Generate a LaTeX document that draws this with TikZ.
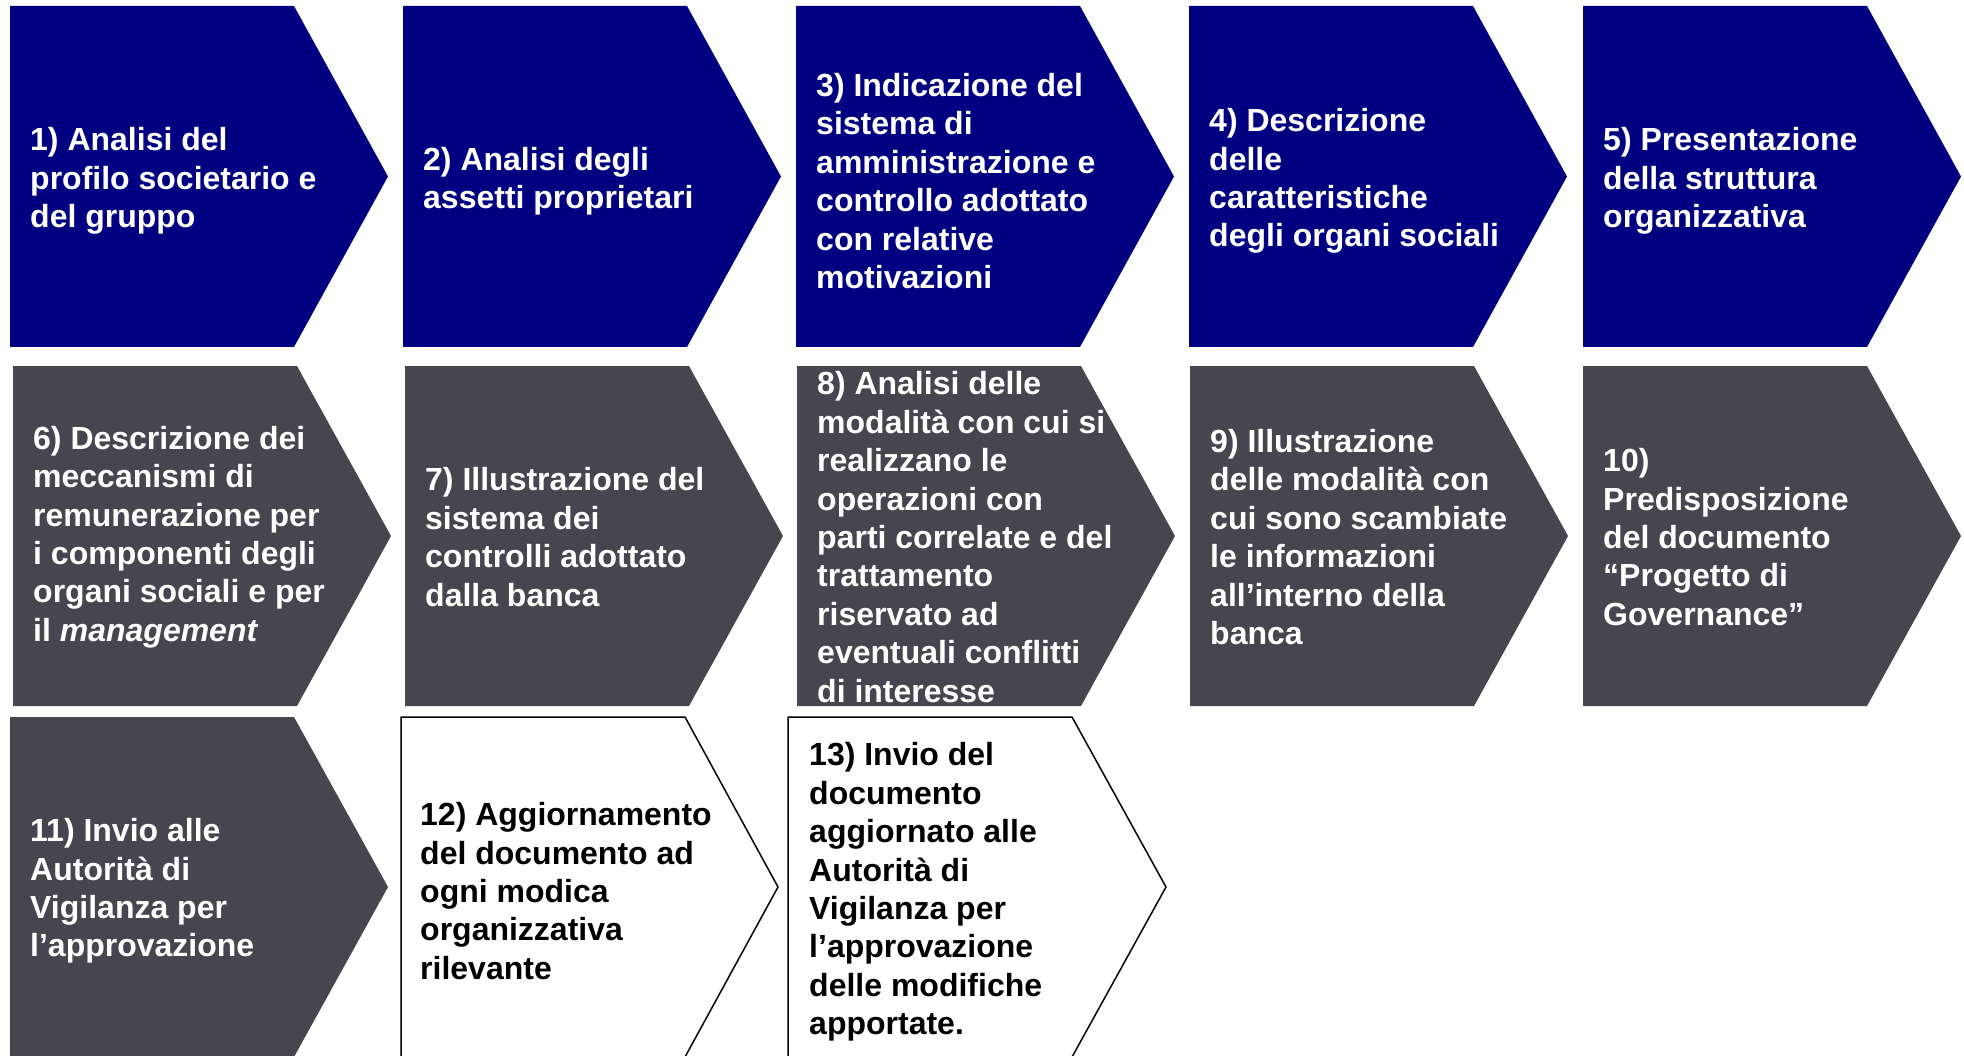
\documentclass[tikz,border=0pt]{standalone}
\usepackage{fontspec}
\setmainfont{Liberation Sans}
\definecolor{navyc}{RGB}{0,0,128}
\definecolor{grayc}{RGB}{70,69,80}
\tikzset{
  navyfill/.style={fill=navyc},
  grayfill/.style={fill=grayc},
  outl/.style={draw=black, line width=1.5pt, line join=miter},
  lbl/.style={anchor=west, inner sep=0pt, align=left,
    font=\fontsize{32}{38.4}\selectfont\bfseries, text=white},
  lbldark/.style={lbl, text=black}
}
\newcommand{\chevron}[4]{%
  \path[#1] (#2,#3) -- ++(284,0) -- ++(94,{#4/2}) -- ++(-94,{#4/2}) -- ++(-284,0) -- cycle;}
\begin{document}
\begin{tikzpicture}[x=1pt,y=-1pt]
\useasboundingbox (0,0) rectangle (1964,1056);
% row 1
\chevron{navyfill}{10}{6}{341}
\chevron{navyfill}{403}{6}{341}
\chevron{navyfill}{796}{6}{341}
\chevron{navyfill}{1189}{6}{341}
\chevron{navyfill}{1583}{6}{341}
% row 2
\chevron{grayfill}{13}{366}{340}
\chevron{grayfill}{405}{366}{340}
\chevron{grayfill}{797}{366}{340}
\chevron{grayfill}{1190}{366}{340}
\chevron{grayfill}{1583}{366}{340}
% row 3
\chevron{grayfill}{10}{717}{340}
\draw[outl] (401,1060) -- (401,717) -- (685,717) -- (778,887) -- (685,1057) -- (683.4,1060);
\draw[outl] (788,1060) -- (788,717) -- (1072,717) -- (1166,887) -- (1072,1057) -- (1070.4,1060);

% texts row 1
\node[lbl] (t1) at (30,181) {1) Analisi del\\profilo societario e\\del gruppo};
\node[lbl] (t2) at (423,181) {2) Analisi degli\\assetti proprietari};
\node[lbl] (t3) at (816,181) {3) Indicazione del\\sistema di\\amministrazione e\\controllo adottato\\con relative\\motivazioni};
\node[lbl] (t4) at (1209,181) {4) Descrizione\\delle\\caratteristiche\\degli organi sociali};
\node[lbl] (t5) at (1603,181) {5) Presentazione\\della struttura\\organizzativa};
% texts row 2
\node[lbl] (t6) at (33,537) {6) Descrizione dei\\meccanismi di\\remunerazione per\\i componenti degli\\organi sociali e per\\il \textit{management}};
\node[lbl] (t7) at (425,537) {7) Illustrazione del\\sistema dei\\controlli adottato\\dalla banca};
\node[lbl] (t8) at (817,537) {8) Analisi delle\\modalità con cui si\\realizzano le\\operazioni con\\parti correlate e del\\trattamento\\riservato ad\\eventuali conflitti\\di interesse};
\node[lbl] (t9) at (1210,537) {9) Illustrazione\\delle modalità con\\cui sono scambiate\\le informazioni\\all’interno della\\banca};
\node[lbl] (t10) at (1603,537) {10)\\Predisposizione\\del documento\\“Progetto di\\Governance”};
% texts row 3
\node[lbl] (t11) at (30,891) {11) Invio alle\\Autorità di\\Vigilanza per\\l’approvazione};
\node[lbldark] (t12) at (420,891) {12) Aggiornamento\\del documento ad\\ogni modica\\organizzativa\\rilevante};
\node[lbldark] (t13) at (809,892) {13) Invio del\\documento\\aggiornato alle\\Autorità di\\Vigilanza per\\l’approvazione\\delle modifiche\\apportate.};
\end{tikzpicture}
\end{document}
